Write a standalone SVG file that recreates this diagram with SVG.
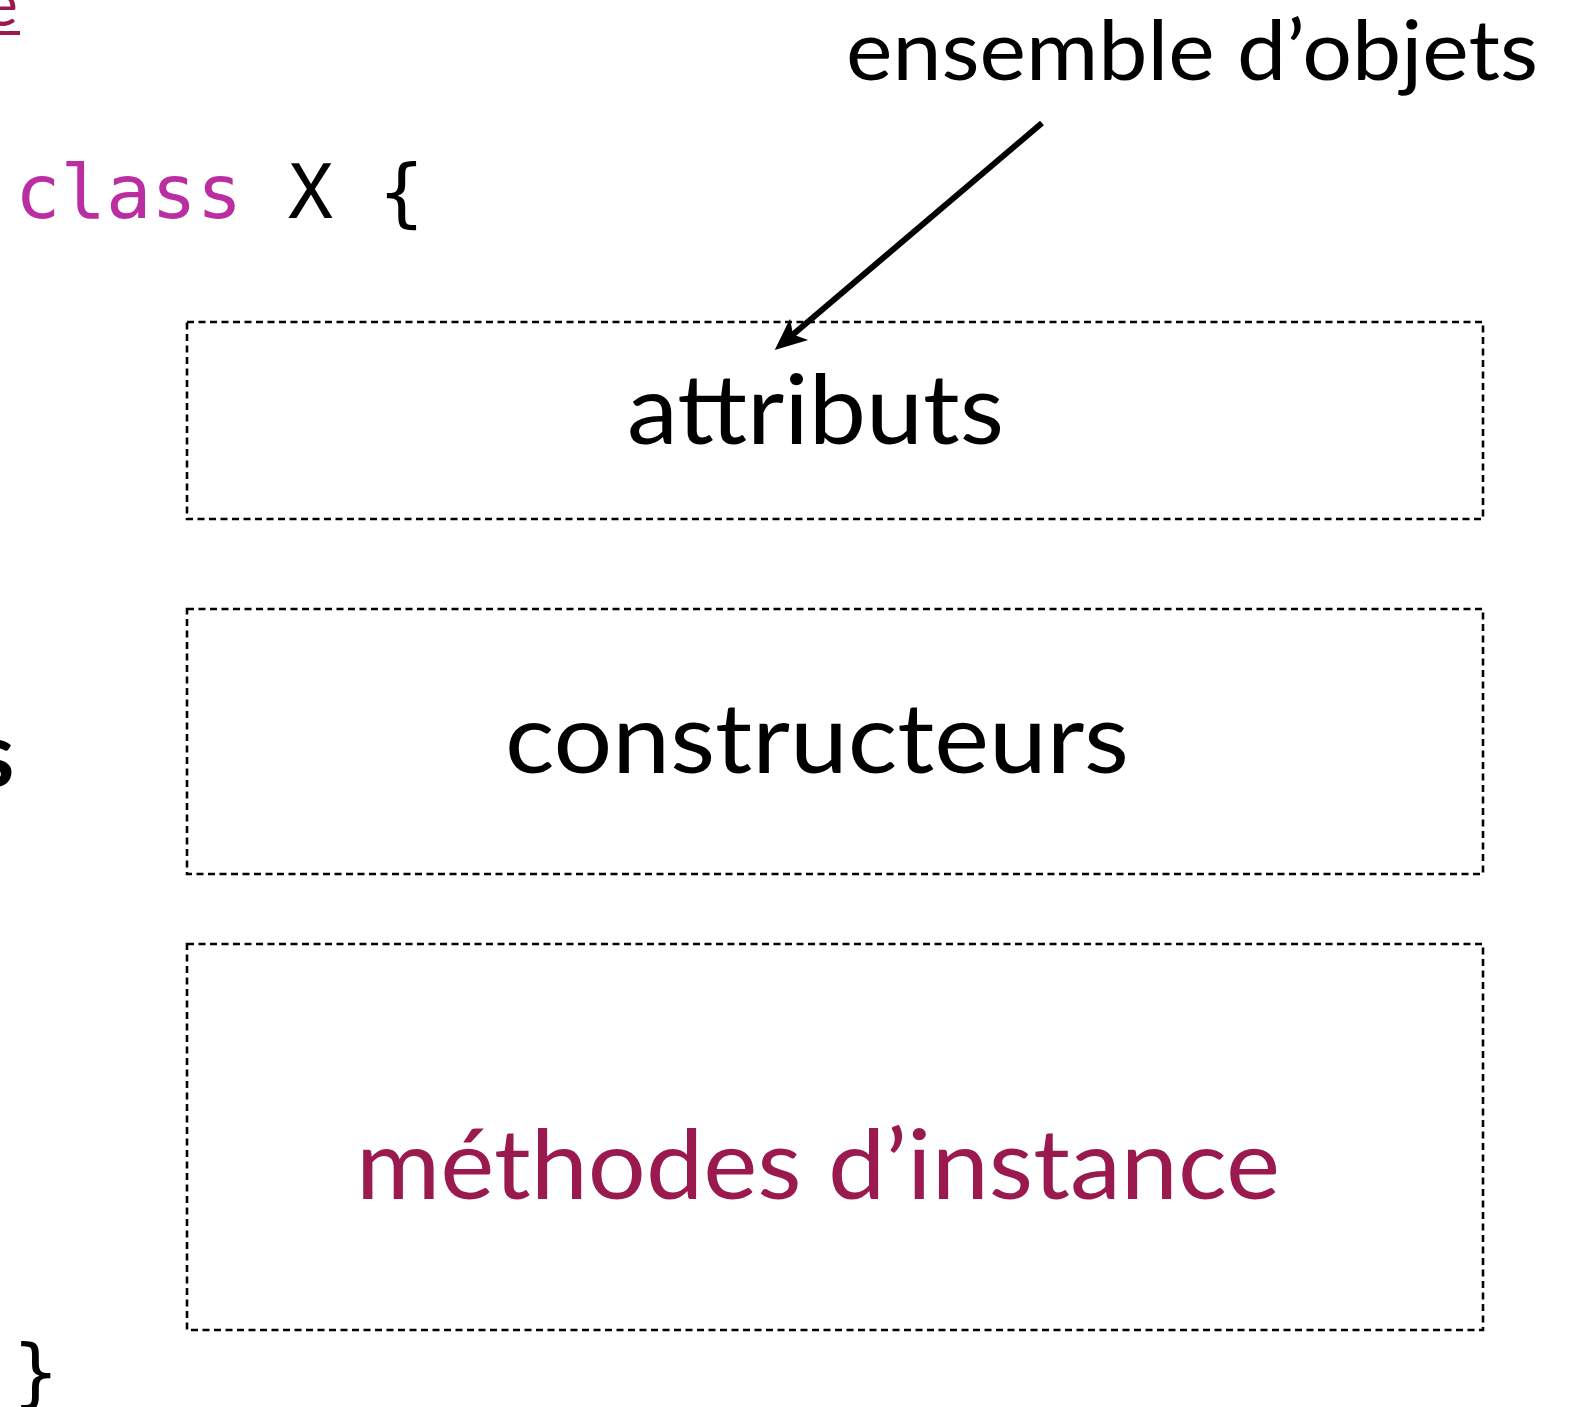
<svg xmlns="http://www.w3.org/2000/svg" width="1574" height="1407" viewBox="0 0 1574 1407">
  <style>
    .sans { font-family: Lato, "Open Sans", "Liberation Sans", sans-serif; }
    .mono { font-family: "DejaVu Sans Mono", "Liberation Mono", monospace; font-size: 75.5px; }
    .box { fill: none; stroke: #000; stroke-width: 2.6; stroke-dasharray: 7 4.5; }
    .big { font-size: 96px; fill: #000; }
    .plum { fill: #9a1a50; }
    .kw { fill: #bb2ea2; }
  </style>
  <defs>
    <marker id="head" viewBox="-34 -16 36 32" refX="-24" refY="0" markerUnits="userSpaceOnUse" markerWidth="36" markerHeight="32" orient="auto">
      <path d="M0,0 L-32,-14 L-24,0 L-32,14 Z" fill="#000"/>
    </marker>
  </defs>
  <rect width="1574" height="1407" fill="#fff"/>

  <!-- fragments at the page edges -->
  <g id="edge-title">
    <text class="sans plum" x="-15" y="26" font-size="62">e</text>
    <rect class="plum" x="0" y="31" width="20" height="4"/>
  </g>
  <g id="edge-s">
    <text class="sans" x="-26" y="787" font-size="92" font-weight="bold" fill="#000">s</text>
  </g>

  <!-- source code lines -->
  <g id="class-decl">
    <text class="mono" x="15" y="218"><tspan class="kw">class</tspan><tspan fill="#000"> X {</tspan></text>
  </g>
  <g id="class-end">
    <text class="mono" x="13" y="1398" fill="#000">}</text>
  </g>

  <!-- member sections -->
  <g id="attributs">
    <rect class="box" x="187" y="322" width="1296" height="197"/>
    <text class="sans big" x="627" y="444" textLength="377" lengthAdjust="spacingAndGlyphs">attributs</text>
  </g>
  <g id="constructeurs">
    <rect class="box" x="187" y="609" width="1296" height="265"/>
    <text class="sans big" x="505" y="773" textLength="624" lengthAdjust="spacingAndGlyphs">constructeurs</text>
  </g>
  <g id="methodes">
    <rect class="box" x="187" y="944" width="1296" height="386"/>
    <text class="sans big plum" x="356" y="1199" textLength="924" lengthAdjust="spacingAndGlyphs">méthodes d’instance</text>
  </g>

  <!-- annotation -->
  <g id="ensemble">
    <text class="sans" x="846" y="80" font-size="84" fill="#000" textLength="692" lengthAdjust="spacingAndGlyphs">ensemble d’objets</text>
  </g>

  <g id="connectors">
    <path d="M1042,123 L793,334.5" stroke="#000" stroke-width="6" fill="none" marker-end="url(#head)"/>
  </g>
</svg>
